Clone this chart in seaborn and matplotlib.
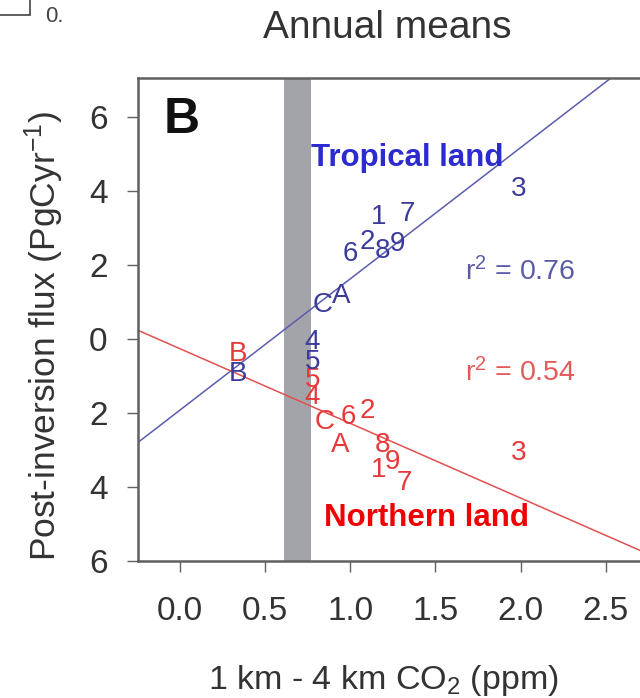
import matplotlib
matplotlib.use("Agg")
import matplotlib.pyplot as plt
import numpy as np
import pandas as pd
import seaborn as sns

# Model identifiers and their annual-mean values
models = ["1", "2", "3", "4", "5", "6", "7", "8", "9", "A", "B", "C"]

tropical_gradient = [1.165, 1.10, 1.99, 0.78, 0.78, 1.00, 1.335, 1.19, 1.28, 0.95, 0.34, 0.84]
tropical_flux = [3.29, 2.62, 4.05, -0.09, -0.61, 2.29, 3.37, 2.37, 2.56, 1.15, -0.96, 0.93]

northern_gradient = [1.165, 1.10, 1.99, 0.78, 0.78, 0.99, 1.32, 1.19, 1.25, 0.94, 0.34, 0.85]
northern_flux = [-3.54, -1.96, -3.08, -1.56, -1.10, -2.10, -3.89, -2.86, -3.32, -2.86, -0.42, -2.24]

# Least-squares fits: slope, intercept
tropical_fit = [3.55, -1.93]
northern_fit = [-2.02, -0.26]
r2_values = [0.76, 0.54]

# Observed gradient range
observed_band = [0.61, 0.77]

xticks = [0.0, 0.5, 1.0, 1.5, 2.0, 2.5]
xticklabels = ["0.0", "0.5", "1.0", "1.5", "2.0", "2.5"]
yticks = [6, 4, 2, 0, -2, -4, -6]
yticklabels = ["6", "4", "2", "0", "2", "4", "6"]

sns.set_style("ticks")
plt.rcParams["font.family"] = ["Liberation Sans", "DejaVu Sans"]
plt.rcParams["mathtext.fontset"] = "custom"
plt.rcParams["mathtext.rm"] = "Liberation Sans"
plt.rcParams["mathtext.it"] = "Liberation Sans:italic"
plt.rcParams["mathtext.bf"] = "Liberation Sans:bold"

BLUE_PT = "#3b3b9c"
BLUE_LINE = "#5c5cae"
BLUE_TITLE = "#2b2bd0"
RED_PT = "#e8383a"
RED_LINE = "#e35050"
RED_TITLE = "#f00000"
SPINE = "#606060"
TEXT = "#333333"

fig = plt.figure(figsize=(6.4, 6.98), dpi=100)
ax = fig.add_axes([138 / 640, 1 - 561 / 698, 1 - 138 / 640, (561 - 78) / 698])

xlim = (-0.244, 2.70)
ylim = (-6.0, 7.05)

ax.axvspan(observed_band[0], observed_band[1], color="#a3a3aa", lw=0, zorder=1)

xs = np.array(xlim)
fits = pd.DataFrame({
    "x": np.concatenate([xs, xs]),
    "y": np.concatenate([tropical_fit[0] * xs + tropical_fit[1],
                         northern_fit[0] * xs + northern_fit[1]]),
    "region": ["Tropical"] * 2 + ["Northern"] * 2,
})
sns.lineplot(data=fits, x="x", y="y", hue="region",
             palette={"Tropical": BLUE_LINE, "Northern": RED_LINE},
             lw=1.1, legend=False, ax=ax, zorder=2)

for lab, x, y in zip(models, northern_gradient, northern_flux):
    ax.text(x, y, lab, color=RED_PT, fontsize=20, ha="center", va="center", zorder=3)
for lab, x, y in zip(models, tropical_gradient, tropical_flux):
    ax.text(x, y, lab, color=BLUE_PT, fontsize=20, ha="center", va="center", zorder=4)

ax.text(1.335, 4.89, "Tropical land", color=BLUE_TITLE, fontsize=22.5,
        fontweight="bold", ha="center", va="center", zorder=5)
ax.text(1.45, -4.84, "Northern land", color=RED_TITLE, fontsize=22.5,
        fontweight="bold", ha="center", va="center", zorder=5)
ax.text(2.0, 1.81, f"r$^2$ = {r2_values[0]:.2f}", color="#5a5aa6", fontsize=20.5,
        ha="center", va="center", zorder=5)
ax.text(2.0, -0.92, f"r$^2$ = {r2_values[1]:.2f}", color="#e35a5a", fontsize=20.5,
        ha="center", va="center", zorder=5)
ax.text(0.01, 5.92, "B", color="#111111", fontsize=36, fontweight="bold",
        ha="center", va="center", zorder=5)

ax.set_xlim(*xlim)
ax.set_ylim(*ylim)
ax.set_xticks(xticks)
ax.set_xticklabels(xticklabels)
ax.set_yticks(yticks)
ax.set_yticklabels(yticklabels)
ax.tick_params(axis="both", labelsize=24, colors=TEXT, length=8, width=1.0,
               direction="out", color=SPINE)
ax.tick_params(axis="x", pad=17)
ax.tick_params(axis="y", pad=14)

for side in ["top", "left", "bottom"]:
    ax.spines[side].set_visible(True)
    ax.spines[side].set_color(SPINE)
    ax.spines[side].set_linewidth(1.8)
ax.spines["right"].set_visible(False)

ax.set_xlabel("1 km - 4 km CO$_2$ (ppm)", fontsize=24.5, color=TEXT)
ax.xaxis.set_label_coords(0.488, -0.248)
ax.xaxis.label.set_va("center")
ax.set_ylabel("Post-inversion flux (PgCyr$^{-1}$)", fontsize=25.5, color=TEXT)
ax.yaxis.set_label_coords(-0.186, 0.466)
ax.yaxis.label.set_va("center")

fig.text(387 / 640, 1 - 28 / 698, "Annual means", fontsize=28, color=TEXT,
         ha="center", va="center")

# Corner fragment of the neighbouring panel
fig.add_artist(plt.Line2D([0, 30 / 640], [1 - 15 / 698, 1 - 15 / 698],
                          color="#444444", lw=1.2, transform=fig.transFigure))
fig.add_artist(plt.Line2D([30 / 640, 30 / 640], [1 - 15 / 698, 1.0],
                          color="#444444", lw=1.2, transform=fig.transFigure))
fig.text(54 / 640, 1 - 17 / 698, "0.", fontsize=16, color="#444444",
         ha="center", va="center")

fig.savefig("out.png", dpi=100)
